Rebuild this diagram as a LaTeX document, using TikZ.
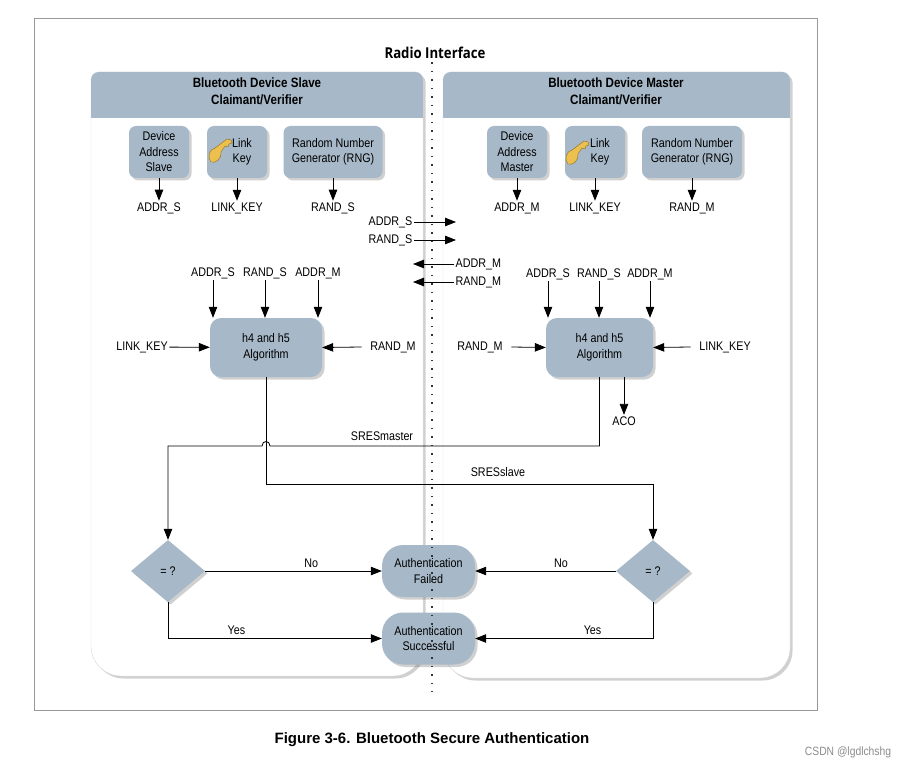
\documentclass[tikz,border=0pt]{standalone}
\usepackage{fontspec}
\setmainfont{Liberation Sans}[FakeStretch=0.86]
\newfontfamily\radiofont{Open Sans}[FakeStretch=0.88]
\newfontfamily\captionfont{Liberation Sans}
\usetikzlibrary{arrows.meta,shapes.geometric,shadows,positioning}

\definecolor{boxblue}{RGB}{167,185,200}
\definecolor{keygold}{RGB}{236,192,78}
\definecolor{keyedge}{RGB}{140,105,35}

\tikzset{
  every node/.style={font=\fontsize{12.5}{15.5}\selectfont},
  shade/.style={drop shadow={shadow xshift=2.5pt,shadow yshift=-2.5pt,opacity=.3,fill=black!60}},
  panel/.style={fill=white,draw=black!15,shade},
  header/.style={fill=boxblue},
  unit/.style={fill=boxblue,rounded corners=7pt,shade,align=center,minimum width=60pt,minimum height=52pt,inner sep=2pt},
  algo/.style={fill=boxblue,rounded corners=11pt,shade,align=center,minimum height=59pt},
  result/.style={fill=boxblue,rounded corners=21pt,shade,align=center,minimum width=93pt,minimum height=52pt},
  check/.style={diamond,fill=boxblue,shade,minimum width=74pt,minimum height=62pt,inner sep=0pt},
  lbl/.style={inner sep=1.5pt},
  arr/.style={-{Triangle[length=11pt,width=8.5pt]},line width=0.8pt},
  title/.style={font=\fontsize{13.5}{17}\selectfont\bfseries,align=center},
}

% key glyph on the link key boxes
\newcommand\linkkey[1]{%
  \begin{scope}[shift={#1}]
    \filldraw[fill=keygold,draw=keyedge,line width=0.4pt]
      (2,24) .. controls (-2,20) and (0,11) .. (6,10) -- (18,1) -- (22,2)
      -- (23,5) -- (20,6) -- (19,9) -- (16,8) -- (12,14)
      .. controls (13,20) and (7,26) .. (2,24) -- cycle;
  \end{scope}}

\begin{document}
\begin{tikzpicture}[x=1pt,y=-1pt]
  \useasboundingbox (0,0) rectangle (904,770);
  \fill[white] (0,0) rectangle (904,770);
  \draw[black!40,line width=0.8pt] (34,18) rectangle (817,710);

  \node[font=\radiofont\bfseries\fontsize{15}{17}\selectfont] (radio) at (435,53) {Radio Interface};

  % the two devices
  \path[panel] (91,300) [rounded corners=8pt] -- (91,72) -- (423,72) -- (423,300)
    [rounded corners=30pt] -- (423,676) -- (91,676) -- cycle;
  \path[panel] (443,300) [rounded corners=8pt] -- (443,72) -- (790,72) -- (790,300)
    [rounded corners=30pt] -- (790,678) -- (443,678) -- cycle;
  \begin{scope}
    \clip (0,0) rectangle (904,118);
    \fill[header,rounded corners=8pt] (91,72) rectangle (423,140);
    \fill[header,rounded corners=8pt] (443,72) rectangle (790,140);
  \end{scope}
  \node[title] (hS) at (257,91.5) {Bluetooth Device Slave\\Claimant/Verifier};
  \node[title] (hM) at (616,91.5) {Bluetooth Device Master\\Claimant/Verifier};

  % slave sources
  \node[unit] (devS) at (159,152) {Device\\Address\\Slave};
  \node[unit] (keyS) at (237,152) {};
  \linkkey{(209,138)}
  \node[align=center] at ([xshift=5pt]keyS.center) {Link\\Key};
  \node[unit,minimum width=99pt] (rngS) at (333,152) {Random Number\\Generator (RNG)};
  \node[lbl] (aS) at (159,208) {ADDR\_S};
  \node[lbl] (kS) at (237,208) {LINK\_KEY};
  \node[lbl] (rS) at (333,208) {RAND\_S};
  \draw[arr] (devS) -- (aS);
  \draw[arr] (keyS) -- (kS);
  \draw[arr] (rngS) -- (rS);

  % master sources
  \node[unit] (devM) at (517,152) {Device\\Address\\Master};
  \node[unit] (keyM) at (595,152) {};
  \linkkey{(566,140)}
  \node[align=center] at ([xshift=5pt]keyM.center) {Link\\Key};
  \node[unit,minimum width=100pt] (rngM) at (692,152) {Random Number\\Generator (RNG)};
  \node[lbl] (aM) at (517,208) {ADDR\_M};
  \node[lbl] (kM) at (595,208) {LINK\_KEY};
  \node[lbl] (rM) at (692,208) {RAND\_M};
  \draw[arr] (devM) -- (aM);
  \draw[arr] (keyM) -- (kM);
  \draw[arr] (rngM) -- (rM);

  % exchange over the air
  \node[lbl,anchor=east] (txA) at (414,222) {ADDR\_S};
  \node[lbl,anchor=east] (txR) at (414,240) {RAND\_S};
  \node[lbl,anchor=west] (rxA) at (454,264) {ADDR\_M};
  \node[lbl,anchor=west] (rxR) at (454,282) {RAND\_M};
  \coordinate (txAe) at (456,222);
  \coordinate (txRe) at (456,240);
  \coordinate (rxAe) at (413,264);
  \coordinate (rxRe) at (413,282);
  \draw[arr] (txA) -- (txAe);
  \draw[arr] (txR) -- (txRe);
  \draw[arr] (rxA) -- (rxAe);
  \draw[arr] (rxR) -- (rxRe);

  % slave algorithm
  \node[algo,minimum width=112pt] (algS) at (266,347.5) {h4 and h5\\Algorithm};
  \node[lbl] (inS1) at (213,273) {ADDR\_S};
  \node[lbl] (inS2) at (265,273) {RAND\_S};
  \node[lbl] (inS3) at (318,273) {ADDR\_M};
  \draw[arr] (inS1) -- (inS1 |- algS.north);
  \draw[arr] (inS2) -- (inS2 |- algS.north);
  \draw[arr] (inS3) -- (inS3 |- algS.north);
  \node[lbl] (lkS) at (142,347) {LINK\_KEY};
  \node[lbl] (rmS) at (393,347) {RAND\_M};
  \draw[arr] (lkS) -- (algS);
  \draw[arr] ([xshift=-7pt]rmS.west) -- (algS.east);

  % master algorithm
  \node[algo,minimum width=107pt] (algM) at (599.5,347.5) {h4 and h5\\Algorithm};
  \node[lbl] (inM1) at (548,274) {ADDR\_S};
  \node[lbl] (inM2) at (599,274) {RAND\_S};
  \node[lbl] (inM3) at (650,274) {ADDR\_M};
  \draw[arr] (inM1) -- (inM1 |- algM.north);
  \draw[arr] (inM2) -- (inM2 |- algM.north);
  \draw[arr] (inM3) -- (inM3 |- algM.north);
  \node[lbl] (rmM) at (480,347) {RAND\_M};
  \node[lbl] (lkM) at (725,347) {LINK\_KEY};
  \draw[arr] ([xshift=7pt]rmM.east) -- (algM.west);
  \draw[arr] ([xshift=-7pt]lkM.west) -- (algM.east);
  \node[lbl] (aco) at (624,421) {ACO};
  \draw[arr] (algM.south -| aco) -- (aco);

  % comparison
  \node[check] (eqS) at (168,571) {= ?};
  \node[check] (eqM) at (653,571) {= ?};
  \node[result] (fail) at (428.5,571) {Authentication\\Failed};
  \node[result] (succ) at (428.5,638.5) {Authentication\\Successful};

  \draw[arr] (algM.south) |- (270,446) .. controls (270,440) and (262,440) .. (262,446) -| (eqS.north);
  \node[lbl] (sm) at (382,436) {SRESmaster};
  \draw[arr] (algS.south) -- ++(0,107) -| (eqM.north);
  \node[lbl] (ss) at (498,472) {SRESslave};

  \draw[arr] (eqS.east) -- node[above,pos=0.6] {No} (fail.west);
  \draw[arr] (eqS.south) |- node[above,pos=0.66] {Yes} (succ.west);
  \draw[arr] (eqM.west) -- node[above,pos=0.39] {No} (fail.east);
  \draw[arr] (eqM.south) |- node[above,pos=0.67] {Yes} (succ.east);

  % radio boundary
  \coordinate (air) at (432,692);
  \draw[line width=1.3pt,dash pattern=on 1.3pt off 7.2pt,black!80] (radio.south -| air) -- (air);

  \node[font=\captionfont\fontsize{15}{17}\selectfont\bfseries] (cap) at (432,740) {Figure 3-6. Bluetooth Secure Authentication};
  \node[text=black!45,font=\fontsize{12}{14}\selectfont] (mark) at (848,752) {CSDN @lgdlchshg};
\end{tikzpicture}
\end{document}
